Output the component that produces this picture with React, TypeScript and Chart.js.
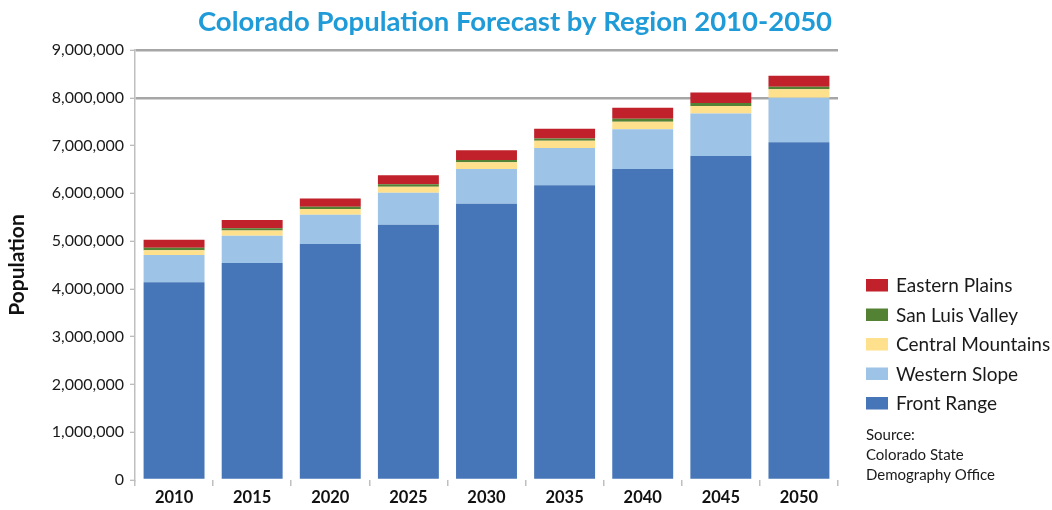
import React, { useEffect, useRef } from "react";
import { Chart, registerables } from "chart.js";

Chart.register(...registerables);

const years = ["2010", "2015", "2020", "2025", "2030", "2035", "2040", "2045", "2050"];
const frontRange = [4140000, 4540000, 4940000, 5340000, 5780000, 6170000, 6510000, 6780000, 7070000];
const westernSlope = [570000, 570000, 610000, 670000, 730000, 780000, 830000, 890000, 930000];
const centralMountains = [100000, 110000, 120000, 130000, 140000, 150000, 160000, 160000, 180000];
const sanLuisValley = [50000, 50000, 50000, 50000, 50000, 50000, 60000, 60000, 50000];
const easternPlains = [170000, 170000, 170000, 190000, 200000, 200000, 230000, 220000, 230000];
const yTicks = [0, 1000000, 2000000, 3000000, 4000000, 5000000, 6000000, 7000000, 8000000, 9000000];
const sourceLines = ["Source:", "Colorado State", "Demography Office"];

const FONT = "Lato, 'Open Sans', sans-serif";

const overlayPlugin = {
  id: "overlay",
  afterDraw(chart: any) {
    const ctx = chart.ctx;
    ctx.save();
    // title
    ctx.font = `bold 27.5px ${FONT}`;
    ctx.fillStyle = "#1F9BD8";
    ctx.textAlign = "center";
    ctx.textBaseline = "alphabetic";
    ctx.fillText("Colorado Population Forecast by Region 2010-2050", 515, 31);
    // legend
    const ds = chart.data.datasets.slice().reverse();
    ctx.textAlign = "left";
    ctx.textBaseline = "middle";
    ctx.font = `19px ${FONT}`;
    ds.forEach((d: any, i: number) => {
      const cy = 285 + i * 29.5;
      ctx.fillStyle = d.backgroundColor;
      ctx.fillRect(866, cy - 6, 22, 12.5);
      ctx.fillStyle = "#1a1a1a";
      ctx.fillText(d.label, 896, cy + 1);
    });
    ctx.font = `15px ${FONT}`;
    sourceLines.forEach((s, i) => {
      ctx.fillText(s, 866, 435 + i * 20);
    });
    ctx.restore();
  },
};

export default function App() {
  const ref = useRef<HTMLCanvasElement>(null);
  useEffect(() => {
    if (!ref.current) return;
    const mk = (label: string, data: number[], color: string) => ({
      label,
      data,
      backgroundColor: color,
      borderWidth: 0,
      categoryPercentage: 1,
      barPercentage: 0.78,
    });
    const chart = new Chart(ref.current, {
      type: "bar",
      data: {
        labels: years,
        datasets: [
          mk("Front Range", frontRange, "#4676B8"),
          mk("Western Slope", westernSlope, "#9DC3E6"),
          mk("Central Mountains", centralMountains, "#FFE08C"),
          mk("San Luis Valley", sanLuisValley, "#548235"),
          mk("Eastern Plains", easternPlains, "#C0212A"),
        ],
      },
      options: {
        animation: false,
        responsive: true,
        maintainAspectRatio: false,
        layout: { padding: { top: 50, right: 214, left: 0, bottom: 0 } },
        plugins: { legend: { display: false }, title: { display: false }, tooltip: { enabled: false } },
        scales: {
          x: {
            stacked: true,
            afterFit: (s: any) => { s.height = 30; },
            grid: { display: true, drawOnChartArea: false, offset: true, color: "#BFBFBF", tickLength: 6, lineWidth: 1.5 },
            border: { display: false },
            ticks: { color: "#111", font: { family: FONT, size: 16.5, weight: "bold" }, padding: 2 },
          },
          y: {
            stacked: true,
            min: 0,
            max: 9000000,
            afterFit: (s: any) => { s.width = 135; },
            afterBuildTicks: (s: any) => { s.ticks = yTicks.map((v) => ({ value: v })); },
            grid: {
              color: (c: any) => (c.tick && c.tick.value >= 8000000 ? "#A6A6A6" : "rgba(0,0,0,0)"),
              lineWidth: 2.5,
              tickColor: "#A6A6A6",
              tickLength: 5,
              tickWidth: 1,
            },
            border: { display: true, color: "#BFBFBF", width: 1.5 },
            ticks: {
              color: "#1a1a1a",
              font: { family: FONT, size: 16 },
              padding: 6,
              callback: (v: any) => Number(v).toLocaleString("en-US"),
            },
            title: {
              display: true,
              text: "Population",
              color: "#111",
              font: { family: FONT, size: 21, weight: "bold" },
              padding: { top: 5, bottom: 0 },
            },
          },
        },
      },
      plugins: [overlayPlugin],
    } as any);
    return () => chart.destroy();
  }, []);
  return (
    <div style={{ position: "absolute", left: 0, top: 0, width: 1052, height: 510, background: "#fff" }}>
      <canvas ref={ref} />
    </div>
  );
}
